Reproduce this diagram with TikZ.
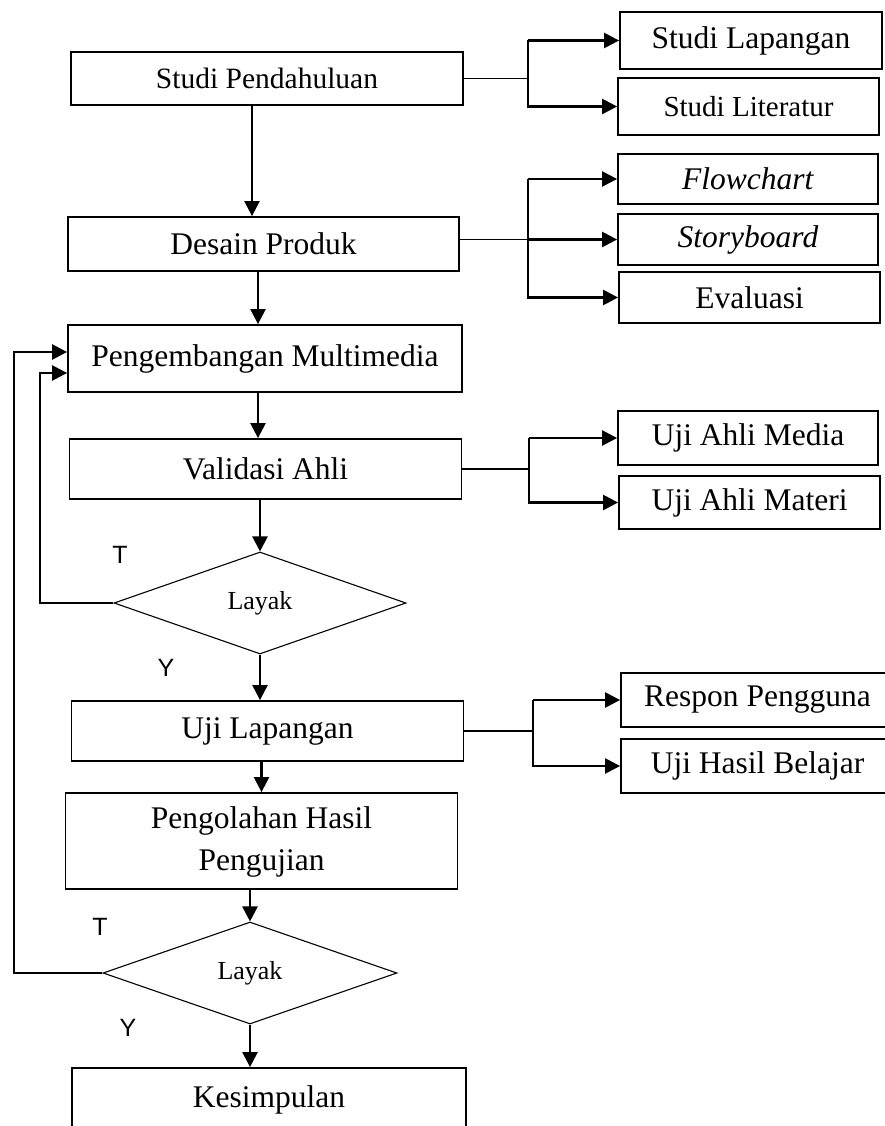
\documentclass[tikz,border=0pt]{standalone}
\usepackage{fontspec}
\setmainfont{Liberation Serif}
\newfontfamily\yesnofont{Liberation Sans}
\usetikzlibrary{arrows.meta,positioning,shapes.geometric}

\begin{document}
\begin{tikzpicture}[x=1pt, y=-1pt, font=\fontsize{31.5}{42}\selectfont,
  box/.style={draw, line width=1.8pt, align=center, inner sep=0pt},
  main/.style={box, minimum width=392pt}, sub/.style={box, minimum width=261pt, minimum height=54pt},
  dec/.style={diamond, draw, line width=1.1pt, inner sep=0pt, minimum width=292pt, minimum height=102pt, font=\fontsize{26}{30}\selectfont},
  lbl/.style={font=\yesnofont\fontsize{25}{28}\selectfont},
  line/.style={line width=1.5pt}, arr/.style={->, line width=2.4pt},
  >={Triangle[length=15pt,width=15pt]}]
\useasboundingbox (0,0) rectangle (885,1126);
\clip (0,0) rectangle (885,1126);
\node[main, minimum height=53pt, font=\fontsize{29.5}{34}\selectfont] (sp) at (267,78.5) {Studi Pendahuluan};
\node[main, minimum width=391pt, minimum height=54pt] (dp) at (263.5,244) {Desain Produk};
\node[main, minimum width=394pt, minimum height=67pt] (pm) at (265,358.5) {Pengembangan Multimedia};
\node[main, minimum height=60pt] (va) at (265.5,469) {Validasi Ahli};
\node[dec] (d1) at (260,603) {Layak};
\node[main, minimum height=60pt] (ul) at (267.5,731) {Uji Lapangan};
\node[main, minimum height=96pt, text depth=4pt] (php) at (261.5,841) {Pengolahan Hasil\\Pengujian};
\node[dec, minimum width=294pt] (d2) at (250,973) {Layak};
\node[main, minimum width=394pt, minimum height=64pt] (kes) at (269,1100) {Kesimpulan};
\node[sub, minimum width=262pt, minimum height=57pt] (sl) at (751,40.5) {Studi Lapangan};
\node[sub, minimum height=57pt, font=\fontsize{29}{34}\selectfont] (slt) at (748.5,106.5) {Studi Literatur};
\node[sub, minimum width=260pt, minimum height=50pt] (fc) at (748,179) {\textit{Flowchart}};
\node[sub, minimum width=260pt, minimum height=51pt] (sb) at (748,239.5) {\textit{Storyboard}};
\node[sub, minimum height=51pt] (ev) at (749.5,297.5) {Evaluasi};
\node[sub, minimum width=260pt] (uam) at (748,438) {Uji Ahli Media};
\node[sub, minimum height=53pt] (uamt) at (749.5,502.5) {Uji Ahli Materi};
\node[sub, minimum width=273pt] (rp) at (757.5,700) {Respon Pengguna};
\node[sub, minimum width=273pt] (uhb) at (757.5,766) {Uji Hasil Belajar};
\node[lbl] (t1) at (120,555) {T}; \node[lbl] (y1) at (166,668) {Y};
\node[lbl] (t2) at (100,927) {T}; \node[lbl] (y2) at (128,1028) {Y};
\coordinate (b1) at (528,77); \coordinate (b2) at (528,237); \coordinate (b3) at (529,466); \coordinate (b4) at (533,726);
\coordinate (lp1) at (40,0); \coordinate (lp2) at (14,0);
\draw[line] (sp.east) -- (sp.east -| b1); \draw[arr] (b1 |- sl) -- (b1 |- slt) -- (slt); \draw[arr] (b1 |- sl) -- (sl);
\draw[line] (dp.east |- sb) -- (b2 |- sb); \draw[arr] (b2 |- sb) -- (sb);
\draw[arr] (b2 |- fc) -- (b2 |- ev) -- (ev); \draw[arr] (b2 |- fc) -- (fc);
\draw[line] (va.east) -- (va.east -| b3); \draw[arr] (b3 |- uam) -- (b3 |- uamt) -- (uamt); \draw[arr] (b3 |- uam) -- (uam);
\draw[line] (ul.east) -- (ul.east -| b4); \draw[arr] (b4 |- rp) -- (b4 |- uhb) -- (uhb); \draw[arr] (b4 |- rp) -- (rp);
\draw[arr] ([xshift=-15pt]sp.south) -- ([xshift=-15pt]sp.south |- dp.north);
\draw[arr] ([xshift=-5.5pt]dp.south) -- ([xshift=-5.5pt]dp.south |- pm.north);
\draw[arr] ([xshift=-7pt]pm.south) -- ([xshift=-7pt]pm.south |- va.north);
\draw[arr] (d1.north |- va.south) -- (d1.north); \draw[arr] (d1.south) -- (d1.south |- ul.north);
\draw[arr] (php.north |- ul.south) -- (php.north); \draw[arr] (d2.north |- php.south) -- (d2.north);
\draw[arr] (d2.south) -- (d2.south |- kes.north);
\draw[arr] (d1.west) -- (d1.west -| lp1) |- ([yshift=-14.5pt]pm.west);
\draw[arr] (d2.west) -- (d2.west -| lp2) |- ([yshift=6.5pt]pm.west);
\end{tikzpicture}
\end{document}
